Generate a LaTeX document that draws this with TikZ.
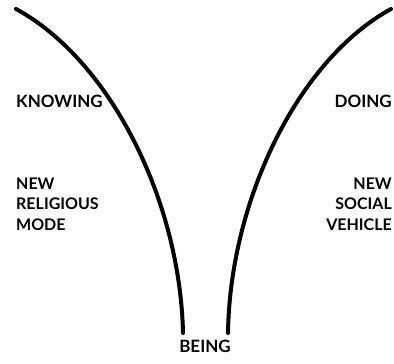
\documentclass[tikz,border=0pt]{standalone}
\usepackage{fontspec}
\setmainfont{Lato}
\begin{document}
\begin{tikzpicture}[x=1pt,y=-1pt,
  lbl/.style={inner sep=0pt,font=\fontsize{17}{20.5}\selectfont\bfseries},
  sub/.style={inner sep=0pt,font=\fontsize{16}{20.5}\selectfont\bfseries},
  branch/.style={line width=4pt,line cap=round}]
\useasboundingbox (0,0) rectangle (394,364);
\coordinate (ltop) at (16,9);
\coordinate (lbot) at (183,333);
\coordinate (rtop) at (391,9);
\coordinate (rbot) at (228,333);
\draw[branch] (ltop) .. controls (110,60) and (180,200) .. (lbot);
\draw[branch] (rtop) .. controls (298,60) and (230,200) .. (rbot);
\node[lbl,anchor=base west] (know) at (16,107) {KNOWING};
\node[lbl,anchor=base east] (do) at (392,107) {DOING};
\node[sub,anchor=base west,align=left] (rel) at (16,230) {NEW\\RELIGIOUS\\MODE};
\node[sub,anchor=base east,align=right] (soc) at (392,230) {NEW\\SOCIAL\\VEHICLE};
\node[lbl,anchor=base] (being) at (205,352) {BEING};
\end{tikzpicture}
\end{document}
